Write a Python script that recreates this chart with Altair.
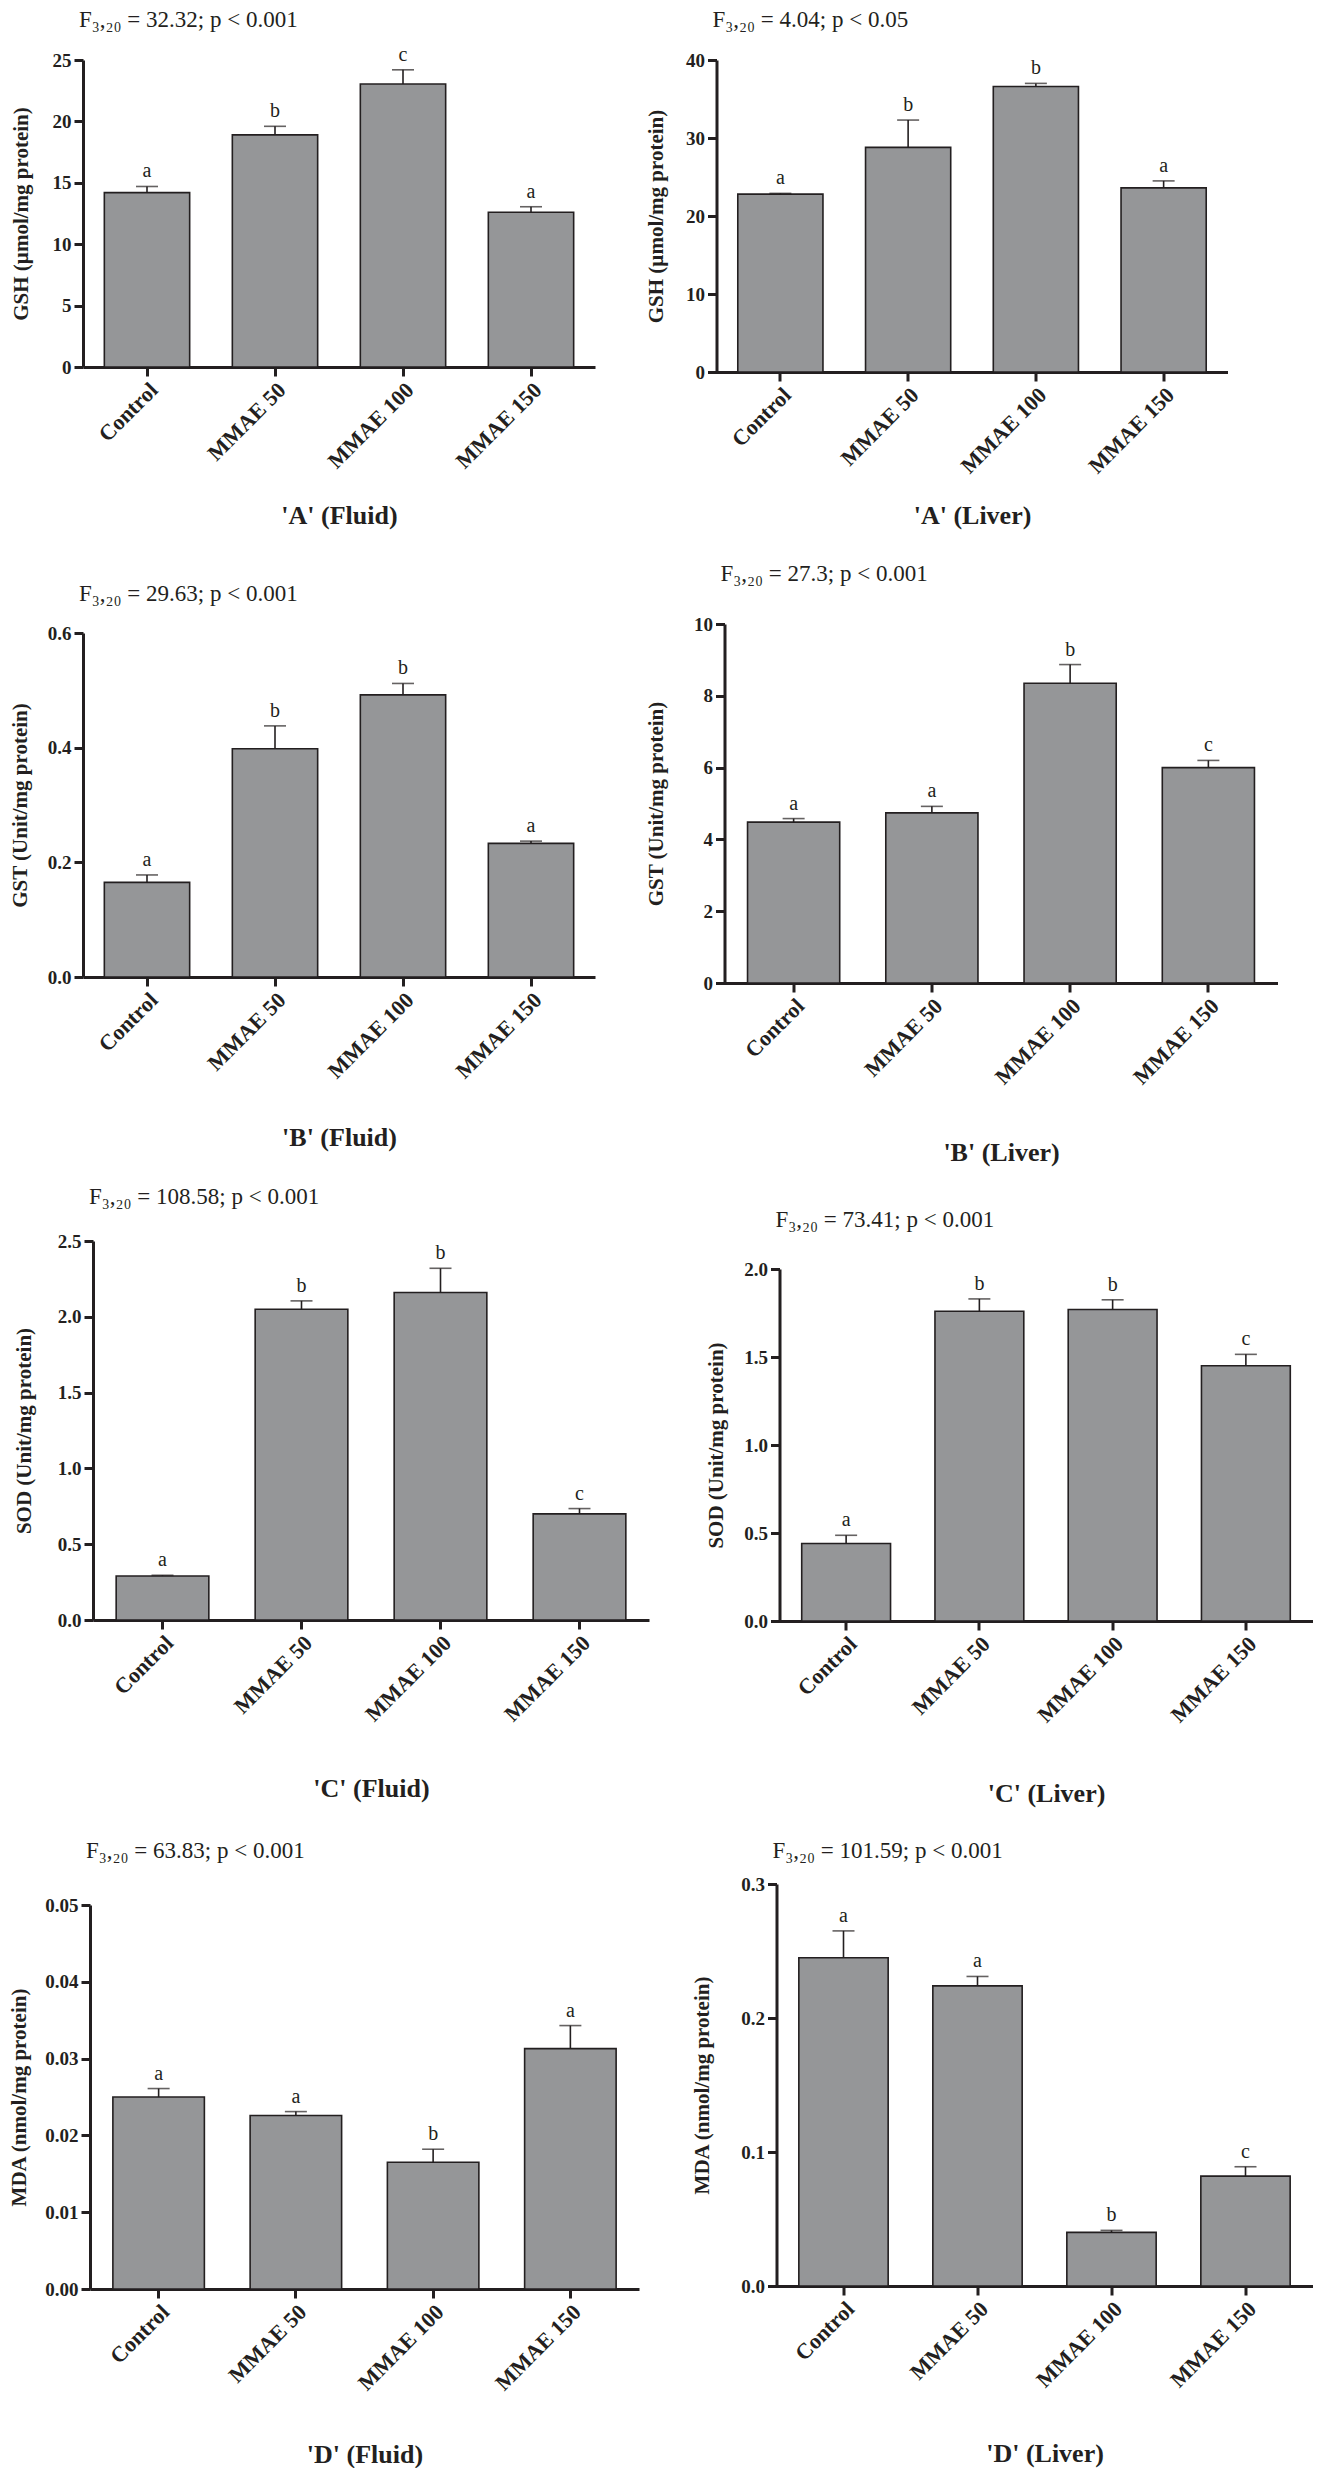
import altair as alt
import pandas as pd

groups = ["Control", "MMAE 50", "MMAE 100", "MMAE 150"]

gsh_fluid_mean = [14.2, 18.9, 23.05, 12.6]
gsh_fluid_se = [0.5, 0.7, 1.15, 0.45]
gsh_fluid_letters = ["a", "b", "c", "a"]

gsh_liver_mean = [22.8, 28.8, 36.6, 23.6]
gsh_liver_se = [0.1, 3.5, 0.4, 0.9]
gsh_liver_letters = ["a", "b", "b", "a"]

gst_fluid_mean = [0.165, 0.398, 0.492, 0.233]
gst_fluid_se = [0.013, 0.04, 0.02, 0.004]
gst_fluid_letters = ["a", "b", "b", "a"]

gst_liver_mean = [4.48, 4.74, 8.35, 6.0]
gst_liver_se = [0.1, 0.18, 0.52, 0.2]
gst_liver_letters = ["a", "a", "b", "c"]

sod_fluid_mean = [0.29, 2.05, 2.16, 0.70]
sod_fluid_se = [0.005, 0.055, 0.16, 0.035]
sod_fluid_letters = ["a", "b", "b", "c"]

sod_liver_mean = [0.44, 1.76, 1.77, 1.45]
sod_liver_se = [0.047, 0.07, 0.055, 0.065]
sod_liver_letters = ["a", "b", "b", "c"]

mda_fluid_mean = [0.025, 0.0226, 0.0165, 0.0313]
mda_fluid_se = [0.0011, 0.0005, 0.0017, 0.003]
mda_fluid_letters = ["a", "a", "b", "a"]

mda_liver_mean = [0.245, 0.224, 0.040, 0.082]
mda_liver_se = [0.02, 0.007, 0.0015, 0.007]
mda_liver_letters = ["a", "a", "b", "c"]

BAR_FILL = "#959698"
INK = "#231f20"
SERIF = "Liberation Serif"

COL_W = [566, 596]  # cell widths (left column, right column)


def panel(mean, se, letters, ymax, yvalues, fmt, ytitle, xtitle, ftext,
          col, x0, x1, height, ytop, ytp, xtp, toff):
    df = pd.DataFrame({
        "group": groups,
        "mean": mean,
        "top": [m + s for m, s in zip(mean, se)],
        "letter": letters,
    })
    xenc = alt.X("group:N", sort=groups, title=xtitle,
                 scale=alt.Scale(range=[x0, x1], paddingInner=1 / 3, paddingOuter=1 / 6),
                 axis=alt.Axis(labelAngle=-45, titlePadding=xtp))
    yscale = alt.Scale(domain=[0, ymax], range=[height, ytop], nice=False, zero=True)
    yaxis = alt.Axis(values=yvalues, format=fmt, titlePadding=ytp, offset=-x0)
    base = alt.Chart(df)
    bars = base.mark_bar(fill=BAR_FILL, stroke=INK, strokeWidth=1.6).encode(
        x=xenc,
        y=alt.Y("mean:Q", scale=yscale, axis=yaxis, title=ytitle),
    )
    err = base.mark_rule(color=INK, strokeWidth=1.6).encode(
        x=xenc,
        y=alt.Y("mean:Q", scale=yscale, axis=yaxis, title=ytitle),
        y2="top:Q",
    )
    cap = base.mark_tick(orient="horizontal", color=INK, thickness=1.6, size=22).encode(
        x=xenc,
        y=alt.Y("top:Q", scale=yscale, axis=yaxis, title=ytitle),
    )
    txt = base.mark_text(font=SERIF, fontSize=20, baseline="bottom", dy=-5, color=INK).encode(
        x=xenc,
        y=alt.Y("top:Q", scale=yscale, axis=yaxis, title=ytitle),
        text="letter:N",
    )
    return alt.layer(bars, err, cap, txt).properties(
        width=COL_W[col], height=height,
        title=alt.Title(ftext, anchor="start", frame="group", offset=toff, dx=x0 - 4,
                        font=SERIF, fontSize=23, fontWeight="normal", color=INK),
    )


a_f = panel(gsh_fluid_mean, gsh_fluid_se, gsh_fluid_letters, 25, [0, 5, 10, 15, 20, 25], "d",
            "GSH (µmol/mg protein)", "'A' (Fluid)", "F₃,₂₀ = 32.32; p < 0.001",
            0, 0, 512, 307, 0, 20.5, 30, 13)
a_l = panel(gsh_liver_mean, gsh_liver_se, gsh_liver_letters, 40, [0, 10, 20, 30, 40], "d",
            "GSH (µmol/mg protein)", "'A' (Liver)", "F₃,₂₀ = 4.04; p < 0.05",
            1, 0, 511, 312, 0, 19.5, 25, 19)
b_f = panel(gst_fluid_mean, gst_fluid_se, gst_fluid_letters, 0.6, [0, 0.2, 0.4, 0.6], ".1f",
            "GST (Unit/mg protein)", "'B' (Fluid)", "F₃,₂₀ = 29.63; p < 0.001",
            0, 0, 512, 353, 9, 16.75, 42, 18)
b_l = panel(gst_liver_mean, gst_liver_se, gst_liver_letters, 10, [0, 2, 4, 6, 8, 10], "d",
            "GST (Unit/mg protein)", "'B' (Liver)", "F₃,₂₀ = 27.3; p < 0.001",
            1, 8, 561, 359, 0, 27.5, 51, 29)
c_f = panel(sod_fluid_mean, sod_fluid_se, sod_fluid_letters, 2.5, [0, 0.5, 1.0, 1.5, 2.0, 2.5], ".1f",
            "SOD (Unit/mg protein)", "'C' (Fluid)", "F₃,₂₀ = 108.58; p < 0.001",
            0, 10, 566, 385, 6, 22.75, 50, 23)
c_l = panel(sod_liver_mean, sod_liver_se, sod_liver_letters, 2.0, [0, 0.5, 1.0, 1.5, 2.0], ".1f",
            "SOD (Unit/mg protein)", "'C' (Liver)", "F₃,₂₀ = 73.41; p < 0.001",
            1, 63, 596, 386, 34, 17.75, 54, 3)
d_f = panel(mda_fluid_mean, mda_fluid_se, mda_fluid_letters, 0.05, [0, 0.01, 0.02, 0.03, 0.04, 0.05], ".2f",
            "MDA (nmol/mg protein)", "'D' (Fluid)", "F₃,₂₀ = 63.83; p < 0.001",
            0, 7, 556, 416, 32, 15, 47, 10)
d_l = panel(mda_liver_mean, mda_liver_se, mda_liver_letters, 0.3, [0, 0.1, 0.2, 0.3], ".1f",
            "MDA (nmol/mg protein)", "'D' (Liver)", "F₃,₂₀ = 101.59; p < 0.001",
            1, 60, 596, 413, 11, 28.75, 49, 10)

chart = alt.concat(
    a_f, a_l, b_f, b_l, c_f, c_l, d_f, d_l,
    columns=2, align="each", bounds="flush",
    spacing={"row": 252, "column": 67.5},
).configure(
    padding={"left": 0, "top": 0, "right": 0, "bottom": 0},
    background="white",
).configure_axis(
    domainColor=INK, domainWidth=3, tickColor=INK, tickWidth=3, tickSize=9,
    grid=False, labelFont=SERIF, labelFontWeight="bold", labelFontSize=19,
    labelColor=INK, labelPadding=3, titleFont=SERIF, titleFontWeight="bold",
    titleFontSize=21, titleColor=INK,
).configure_axisX(
    labelFontSize=22, titleFontSize=26,
).configure_view(stroke="transparent")

chart.save("out.html", embed_options={"renderer": "svg", "actions": False})
